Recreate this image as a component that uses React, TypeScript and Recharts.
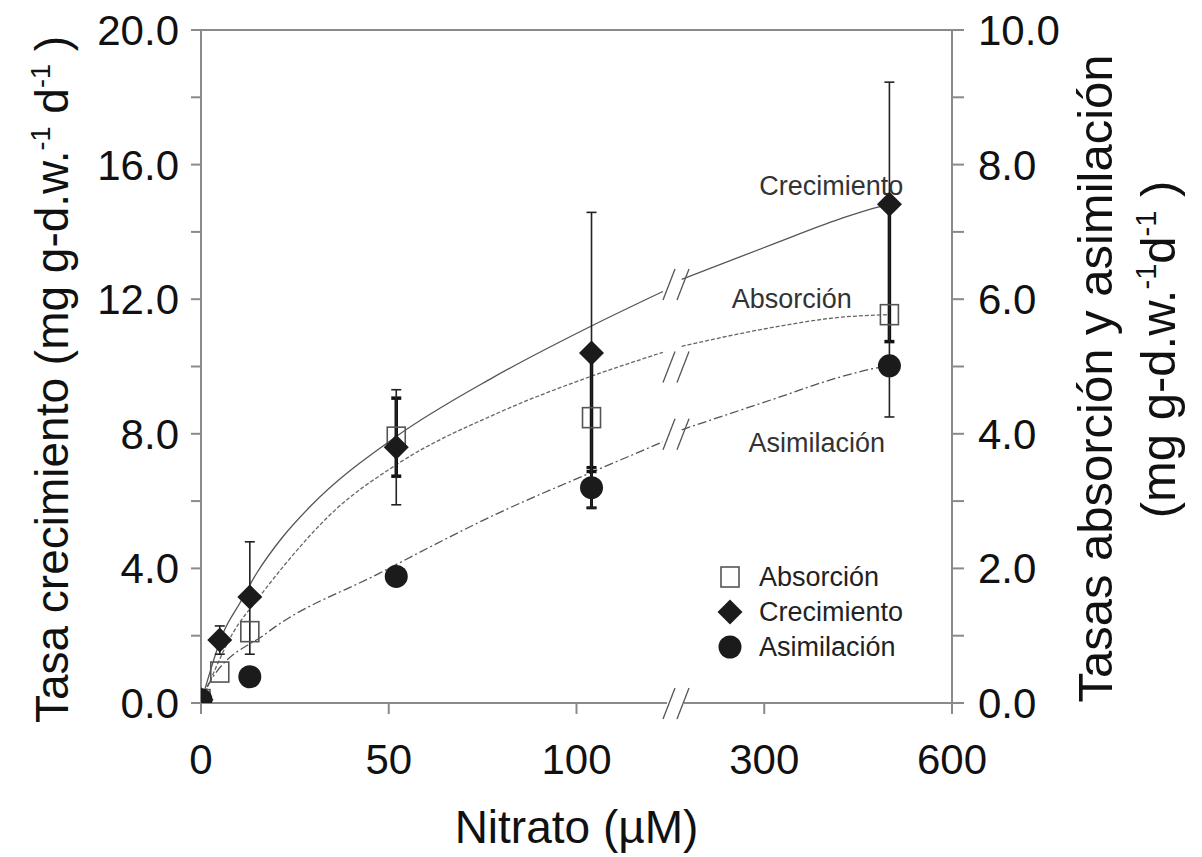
import React from 'react';
import {
  ComposedChart,
  Line,
  Scatter,
  XAxis,
  YAxis,
  ErrorBar,
  ReferenceLine,
  ReferenceDot,
  Legend,
} from 'recharts';

const FONT = "'Liberation Sans', Arial, Helvetica, sans-serif";

// ---- x axis (broken scale) ----
const xTickValues = [0, 50, 100, 300, 600];
const xTickLabels = ['0', '50', '100', '300', '600'];
const BREAK_UM = 126.5;
const toPos = (v: number) => (v <= BREAK_UM + 5 ? v / 50 : 3 + (v - 300) / 300);

// ---- measured points ----
const nitrato = [0, 5, 13, 52, 104, 500];
const crecimiento = [0.1, 1.87, 3.15, 7.6, 10.4, 14.82];
const crecimientoErr: (number[] | null)[] = [null, [0.42, 0.42], [1.7, 1.64], [1.71, 1.71], [4.6, 4.18], [6.32, 3.63]];

const absorcion = [0.05, 0.46, 1.06, 3.95, 4.24, 5.77];
const absorcionErr: (number[] | null)[] = [null, null, null, [0.58, 0.58], [0.8, 0.97], [0.4, 1.64]];

const nitratoAsim = [0, 13, 52, 104, 500];
const asimilacion = [0.05, 0.39, 1.88, 3.2, 5.01];
const asimilacionErr: (number[] | null)[] = [null, null, null, [0.3, 0.3], null];

// ---- fitted curves, split at the axis break ----
const crecCurve1X = [0, 5.9, 10.4, 14.9, 21.8, 29, 52, 77.7, 103.7, 123];
const crecCurve1Y = [0, 2.08, 2.98, 3.87, 4.94, 5.83, 7.92, 9.67, 11.19, 12.23];
const crecCurve2X = [168, 313, 420, 480, 500];
const crecCurve2Y = [12.59, 13.63, 14.38, 14.73, 14.82];

const absCurve1X = [0, 8.5, 14.9, 21.8, 35, 52, 79.5, 103.7, 123];
const absCurve1Y = [0, 1.04, 1.53, 2.02, 2.83, 3.54, 4.32, 4.85, 5.21];
const absCurve2X = [168, 313, 420, 500];
const absCurve2Y = [5.3, 5.58, 5.73, 5.77];

const asimCurve1X = [0, 1.9, 17.5, 47.6, 79.5, 103.7, 123];
const asimCurve1Y = [0, 0.27, 1.04, 1.93, 2.83, 3.42, 3.88];
const asimCurve2X = [168, 313, 420, 480, 500];
const asimCurve2Y = [4.06, 4.51, 4.84, 4.98, 5.01];

// break marks on the curves: [axis, value]
const curveBreaks: { axis: string; y: number }[] = [
  { axis: 'left', y: 12.45 },
  { axis: 'right', y: 5.0 },
  { axis: 'right', y: 4.0 },
];

// in-plot annotations
const annotations = [
  { text: 'Crecimiento', x: 407, y: 15.36 },
  { text: 'Absorción', x: 344, y: 12.0 },
  { text: 'Asimilación', x: 384, y: 7.74 },
];

const leftTicks = [0, 2, 4, 6, 8, 10, 12, 14, 16, 18, 20];
const rightTicks = [0, 1, 2, 3, 4, 5, 6, 7, 8, 9, 10];
const legendOrder = ['Absorción', 'Crecimiento', 'Asimilación'];

const pts = (xs: number[], ys: number[], errs?: (number[] | null)[]) =>
  xs.map((x, i) => ({ pos: toPos(x), y: ys[i], err: errs ? errs[i] : null }));

const crecData = pts(nitrato, crecimiento, crecimientoErr);
const absData = pts(nitrato, absorcion, absorcionErr);
const asimData = pts(nitratoAsim, asimilacion, asimilacionErr);

const AXIS = '#8a8a8a';
const MARK = '#1b1b1b';

const Diamond = (p: any) => {
  const { cx, cy } = p;
  const r = 12.5;
  return <polygon points={`${cx},${cy - r} ${cx + r},${cy} ${cx},${cy + r} ${cx - r},${cy}`} fill={MARK} />;
};
const Square = (p: any) => {
  const { cx, cy } = p;
  return <rect x={cx - 9} y={cy - 10} width={18} height={20} fill="none" stroke="#555" strokeWidth={1.6} />;
};
const Circle = (p: any) => {
  const { cx, cy } = p;
  return <circle cx={cx} cy={cy} r={11.5} fill={MARK} />;
};

const BreakMark = (p: any) => {
  const { cx, cy, erase } = p;
  return (
    <g>
      {erase ? <rect x={cx - 9} y={cy - 4} width={17} height={8} fill="#fff" /> : null}
      <line x1={cx - 13} y1={cy + 16} x2={cx - 1} y2={cy - 15} stroke="#555" strokeWidth={1.3} />
      <line x1={cx + 1} y1={cy + 16} x2={cx + 13} y2={cy - 15} stroke="#555" strokeWidth={1.3} />
    </g>
  );
};

const LeftTitle = (props: any) => {
  const vb = props.viewBox || { x: 0, y: 30, width: 201, height: 673 };
  const x = vb.x + 68;
  const y = vb.y + vb.height / 2 + 13;
  return (
    <text x={x} y={y} transform={`rotate(-90, ${x}, ${y})`} textAnchor="middle" fontSize={46} fontFamily={FONT} fill="#111">
      Tasa crecimiento (mg g-d.w.
      <tspan dy={-18} fontSize={27}>-1</tspan>
      <tspan dy={18}> d</tspan>
      <tspan dy={-18} fontSize={27}>-1</tspan>
      <tspan dy={18}> )</tspan>
    </text>
  );
};

const RightTitle = (props: any) => {
  const vb = props.viewBox || { x: 952, y: 30, width: 250, height: 673 };
  const x1 = vb.x + 160;
  const y1 = vb.y + vb.height / 2 + 12;
  const x2 = vb.x + 223;
  const y2 = vb.y + vb.height / 2 - 17;
  return (
    <g>
      <text x={x1} y={y1} transform={`rotate(-90, ${x1}, ${y1})`} textAnchor="middle" fontSize={49} fontFamily={FONT} fill="#111">
        Tasas absorción y asimilación
      </text>
      <text x={x2} y={y2} transform={`rotate(-90, ${x2}, ${y2})`} textAnchor="middle" fontSize={49} fontFamily={FONT} fill="#111">
        (mg g-d.w.
        <tspan dy={-19} fontSize={29}>-1</tspan>
        <tspan dy={19}>d</tspan>
        <tspan dy={-19} fontSize={29}>-1</tspan>
        <tspan dy={19}> )</tspan>
      </text>
    </g>
  );
};

const XTitle = (props: any) => {
  const vb = props.viewBox || { x: 201, y: 703, width: 751, height: 154 };
  return (
    <text x={vb.x + vb.width / 2} y={vb.y + 140} textAnchor="middle" fontSize={46} fontFamily={FONT} fill="#111">
      Nitrato (µM)
    </text>
  );
};

const renderLegend = (props: any) => {
  const items = (props.payload || [])
    .filter((p: any) => legendOrder.includes(p.value))
    .sort((a: any, b: any) => legendOrder.indexOf(a.value) - legendOrder.indexOf(b.value));
  return (
    <svg width={200} height={110}>
      {items.map((it: any, i: number) => {
        const cy = 16 + i * 35;
        const cx = 16;
        let marker = null;
        if (it.value === 'Absorción') marker = <Square cx={cx} cy={cy} />;
        else if (it.value === 'Crecimiento') marker = <Diamond cx={cx} cy={cy} />;
        else marker = <Circle cx={cx} cy={cy} />;
        return (
          <g key={it.value}>
            {marker}
            <text x={cx + 29} y={cy} dominantBaseline="central" fontSize={27} fontFamily={FONT} fill="#222">
              {it.value}
            </text>
          </g>
        );
      })}
    </svg>
  );
};

const lineCommon = { dot: false, isAnimationActive: false, legendType: 'none' as const, type: 'monotone' as const };

export default function App() {
  return (
    <div style={{ position: 'absolute', left: 0, top: 0, width: 1202, height: 857, background: '#fff' }}>
      <ComposedChart width={1202} height={857} margin={{ top: 30, right: 0, bottom: 0, left: 0 }}>
        <XAxis
          type="number"
          dataKey="pos"
          domain={[0, 4]}
          ticks={xTickValues.map(toPos)}
          tickFormatter={(v: number) => xTickLabels[Math.round(v)]}
          allowDataOverflow
          height={154}
          tickSize={11}
          tickMargin={30}
          axisLine={{ stroke: AXIS, strokeWidth: 2 }}
          tickLine={{ stroke: AXIS, strokeWidth: 2 }}
          tick={{ fontSize: 42, fill: '#111', fontFamily: FONT }}
          label={{ content: (p: any) => <XTitle {...p} /> }}
        />
        <YAxis
          yAxisId="left"
          type="number"
          domain={[0, 20]}
          ticks={leftTicks}
          allowDataOverflow
          width={201}
          tickSize={10}
          tickMargin={12}
          tickFormatter={(v: number) => (v % 4 === 0 ? v.toFixed(1) : '')}
          axisLine={{ stroke: AXIS, strokeWidth: 2 }}
          tickLine={{ stroke: AXIS, strokeWidth: 2 }}
          tick={{ fontSize: 42, fill: '#111', fontFamily: FONT }}
          label={{ content: (p: any) => <LeftTitle {...p} /> }}
        />
        <YAxis
          yAxisId="right"
          orientation="right"
          type="number"
          domain={[0, 10]}
          ticks={rightTicks}
          allowDataOverflow
          width={250}
          tickSize={12}
          tickMargin={14}
          tickFormatter={(v: number) => (v % 2 === 0 ? v.toFixed(1) : '')}
          axisLine={{ stroke: AXIS, strokeWidth: 2 }}
          tickLine={{ stroke: AXIS, strokeWidth: 2 }}
          tick={{ fontSize: 42, fill: '#111', fontFamily: FONT }}
          label={{ content: (p: any) => <RightTitle {...p} /> }}
        />
        <ReferenceLine yAxisId="left" y={20} stroke={AXIS} strokeWidth={2} />

        {/* fitted curves */}
        <Line {...lineCommon} yAxisId="left" data={pts(crecCurve1X, crecCurve1Y)} dataKey="y" stroke="#555" strokeWidth={1.3} />
        <Line {...lineCommon} yAxisId="left" data={pts(crecCurve2X, crecCurve2Y)} dataKey="y" stroke="#555" strokeWidth={1.3} />
        <Line {...lineCommon} yAxisId="right" data={pts(absCurve1X, absCurve1Y)} dataKey="y" stroke="#666" strokeWidth={1.3} strokeDasharray="4 2" />
        <Line {...lineCommon} yAxisId="right" data={pts(absCurve2X, absCurve2Y)} dataKey="y" stroke="#666" strokeWidth={1.3} strokeDasharray="4 2" />
        <Line {...lineCommon} yAxisId="right" data={pts(asimCurve1X, asimCurve1Y)} dataKey="y" stroke="#555" strokeWidth={1.3} strokeDasharray="9 3 2 3" />
        <Line {...lineCommon} yAxisId="right" data={pts(asimCurve2X, asimCurve2Y)} dataKey="y" stroke="#555" strokeWidth={1.3} strokeDasharray="9 3 2 3" />

        {/* break marks */}
        <ReferenceDot yAxisId="left" x={toPos(BREAK_UM)} y={0} r={0} ifOverflow="visible" shape={(p: any) => <BreakMark {...p} erase />} />
        {curveBreaks.map((b, i) => (
          <ReferenceDot key={i} yAxisId={b.axis} x={toPos(BREAK_UM)} y={b.y} r={0} shape={(p: any) => <BreakMark {...p} />} />
        ))}

        {/* annotations */}
        {annotations.map((a) => (
          <ReferenceDot
            key={a.text}
            yAxisId="left"
            x={toPos(a.x)}
            y={a.y}
            r={0}
            shape={(p: any) => (
              <text x={p.cx} y={p.cy} textAnchor="middle" dominantBaseline="central" fontSize={27} fontFamily={FONT} fill="#333">
                {a.text}
              </text>
            )}
          />
        ))}

        {/* data points */}
        <Scatter name="Absorción" yAxisId="right" data={absData} dataKey="y" shape={Square} isAnimationActive={false}>
          <ErrorBar dataKey="err" direction="y" width={5} stroke="#111" strokeWidth={3.5} isAnimationActive={false} />
        </Scatter>
        <Scatter name="Asimilación" yAxisId="right" data={asimData} dataKey="y" shape={Circle} isAnimationActive={false}>
          <ErrorBar dataKey="err" direction="y" width={5} stroke="#111" strokeWidth={3} isAnimationActive={false} />
        </Scatter>
        <Scatter name="Crecimiento" yAxisId="left" data={crecData} dataKey="y" shape={Diamond} isAnimationActive={false}>
          <ErrorBar dataKey="err" direction="y" width={5} stroke="#222" strokeWidth={1.6} isAnimationActive={false} />
        </Scatter>

        <Legend
          layout="horizontal"
          verticalAlign="middle"
          align="center"
          content={renderLegend}
          wrapperStyle={{ position: 'absolute', left: 714, top: 561, width: 200, height: 110 }}
        />
      </ComposedChart>
    </div>
  );
}
